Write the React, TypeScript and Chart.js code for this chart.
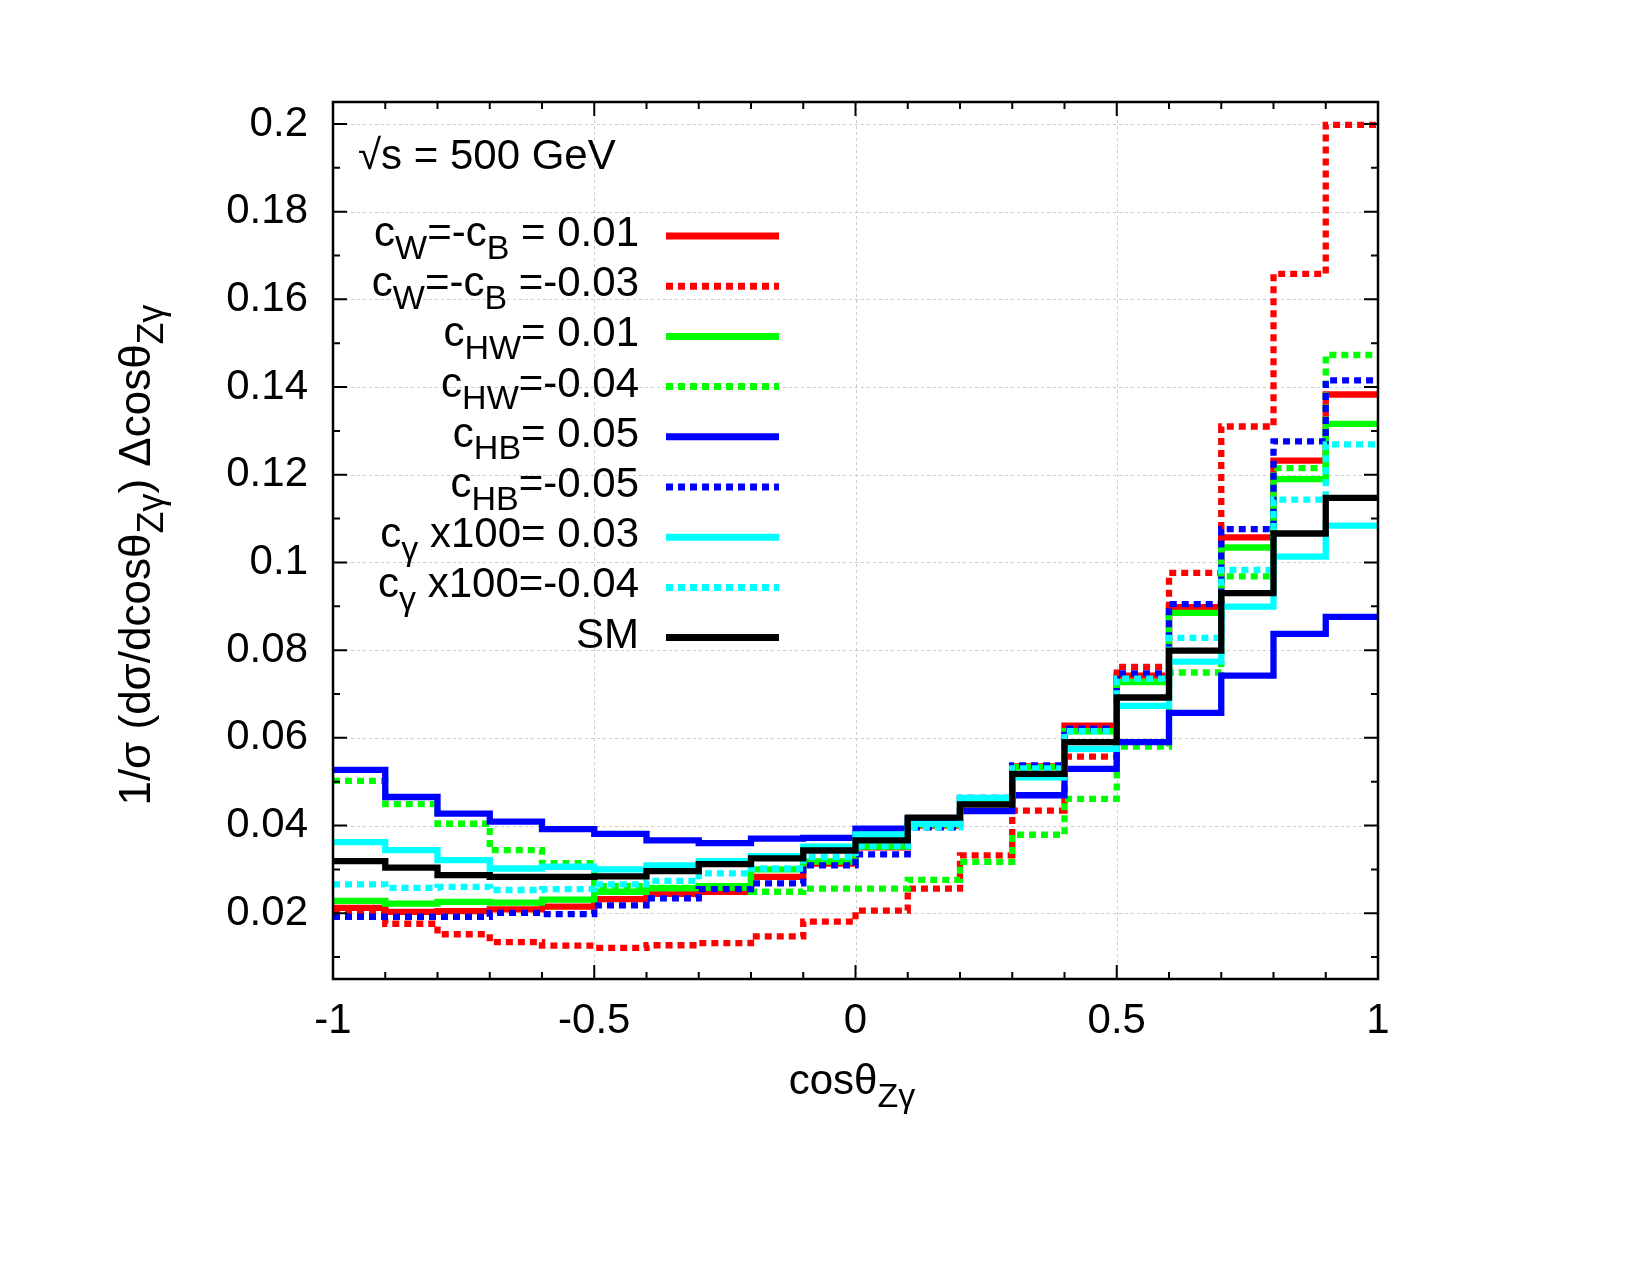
import React, { useEffect, useRef } from 'react';
import { Chart, registerables } from 'chart.js';

Chart.register(...registerables);

// ---------------- data ----------------
const binEdges = [-1, -0.9, -0.8, -0.7, -0.6, -0.5, -0.4, -0.3, -0.2, -0.1, 0, 0.1, 0.2, 0.3, 0.4, 0.5, 0.6, 0.7, 0.8, 0.9, 1];
const xTicks = [-1, -0.5, 0, 0.5, 1];
const yTicks = [0.02, 0.04, 0.06, 0.08, 0.1, 0.12, 0.14, 0.16, 0.18, 0.2];
const yMinorTicks = [0.01, 0.02, 0.03, 0.04, 0.05, 0.06, 0.07, 0.08, 0.09, 0.1, 0.11, 0.12, 0.13, 0.14, 0.15, 0.16, 0.17, 0.18, 0.19, 0.2];
const xMin = -1;
const xMax = 1;
const yMin = 0.005;
const yMax = 0.205;

const seriesLabels = [
  'c_W=-c_B = 0.01',
  'c_W=-c_B =-0.03',
  'c_{HW}= 0.01',
  'c_{HW}=-0.04',
  'c_{HB}= 0.05',
  'c_{HB}=-0.05',
  'c_γ x100= 0.03',
  'c_γ x100=-0.04',
  'SM',
];

const cwcbPos = [0.0212, 0.0203, 0.0205, 0.0209, 0.0215, 0.0232, 0.0244, 0.0249, 0.0283, 0.0313, 0.0350, 0.0400, 0.0460, 0.0535, 0.0628, 0.0742, 0.0898, 0.1057, 0.1232, 0.1383];
const cwcbNeg = [0.0205, 0.0176, 0.0152, 0.0134, 0.0126, 0.0121, 0.0127, 0.0132, 0.0147, 0.0181, 0.0206, 0.0256, 0.0332, 0.0434, 0.0557, 0.0762, 0.0976, 0.1310, 0.1658, 0.1998];
const chwPos = [0.0228, 0.0222, 0.0226, 0.0224, 0.0231, 0.0249, 0.0257, 0.0262, 0.0300, 0.0318, 0.0352, 0.0402, 0.0460, 0.0533, 0.0615, 0.0727, 0.0885, 0.1034, 0.1190, 0.1316];
const chwNeg = [0.0502, 0.0449, 0.0404, 0.0344, 0.0314, 0.0262, 0.0258, 0.0258, 0.0249, 0.0256, 0.0256, 0.0276, 0.0317, 0.0379, 0.0461, 0.0580, 0.0749, 0.0968, 0.1215, 0.1473];
const chbPos = [0.0527, 0.0465, 0.0427, 0.0409, 0.0392, 0.0381, 0.0366, 0.0360, 0.0370, 0.0372, 0.0393, 0.0415, 0.0433, 0.0469, 0.0529, 0.0590, 0.0657, 0.0742, 0.0837, 0.0876];
const chbNeg = [0.0192, 0.0192, 0.0192, 0.0201, 0.0198, 0.0218, 0.0234, 0.0255, 0.0268, 0.0309, 0.0334, 0.0396, 0.0463, 0.0537, 0.0621, 0.0747, 0.0905, 0.1076, 0.1276, 0.1415];
const cgPos = [0.0362, 0.0344, 0.0321, 0.0302, 0.0306, 0.0300, 0.0309, 0.0319, 0.0330, 0.0352, 0.0380, 0.0404, 0.0463, 0.0510, 0.0575, 0.0673, 0.0774, 0.0899, 0.1013, 0.1084];
const cgNeg = [0.0266, 0.0258, 0.0260, 0.0253, 0.0255, 0.0266, 0.0274, 0.0291, 0.0302, 0.0328, 0.0353, 0.0396, 0.0463, 0.0530, 0.0615, 0.0735, 0.0828, 0.0983, 0.1143, 0.1269];
const smValues = [0.0319, 0.0304, 0.0287, 0.0283, 0.0283, 0.0284, 0.0296, 0.0312, 0.0325, 0.0343, 0.0366, 0.0418, 0.0448, 0.0518, 0.0590, 0.0692, 0.0799, 0.0930, 0.1066, 0.1147];

const seriesValues = [cwcbPos, cwcbNeg, chwPos, chwNeg, chbPos, chbNeg, cgPos, cgNeg, smValues];
const seriesColors = ['#ff0000', '#ff0000', '#00ff00', '#00ff00', '#0000ff', '#0000ff', '#00ffff', '#00ffff', '#000000'];
const seriesDotted = [false, true, false, true, false, true, false, true, false];

const energyLabel = '√s = 500 GeV';
const xTitle = 'cosθ_{Zγ}';
const yTitle = '1/σ (dσ/dcosθ_{Zγ}) Δcosθ_{Zγ}';

// ---------------- styling ----------------
const FONT = '"Liberation Sans", Arial, Helvetica, sans-serif';
const FS = 42;
const DASH = [7, 5];
const LINE_W = 6.3;

type Seg = { t: string; sub: boolean };

function parseRich(s: string): Seg[] {
  const out: Seg[] = [];
  let buf = '';
  for (let i = 0; i < s.length; i++) {
    const ch = s[i];
    if (ch === '_') {
      if (buf) { out.push({ t: buf, sub: false }); buf = ''; }
      if (s[i + 1] === '{') {
        const j = s.indexOf('}', i + 2);
        out.push({ t: s.slice(i + 2, j), sub: true });
        i = j;
      } else {
        out.push({ t: s[i + 1], sub: true });
        i++;
      }
    } else {
      buf += ch;
    }
  }
  if (buf) out.push({ t: buf, sub: false });
  return out;
}

function drawRich(ctx: CanvasRenderingContext2D, s: string, x: number, y: number, size: number, align: 'left' | 'right' | 'center') {
  const segs = parseRich(s);
  const subSize = Math.round(size * 0.82);
  const widths = segs.map((g) => {
    ctx.font = `${g.sub ? subSize : size}px ${FONT}`;
    return ctx.measureText(g.t).width;
  });
  const total = widths.reduce((a, b) => a + b, 0);
  let cx = align === 'left' ? x : align === 'right' ? x - total : x - total / 2;
  ctx.textAlign = 'left';
  ctx.textBaseline = 'alphabetic';
  segs.forEach((g, i) => {
    ctx.font = `${g.sub ? subSize : size}px ${FONT}`;
    ctx.fillText(g.t, cx, y + (g.sub ? size * 0.3 : 0));
    cx += widths[i];
  });
  return total;
}

const gnuplotPlugin = {
  id: 'gnuplotDecor',
  beforeDatasetsDraw(chart: any) {
    const { ctx, chartArea: a, scales } = chart;
    const xs = scales.x;
    const ys = scales.y;
    ctx.save();
    ctx.strokeStyle = '#cccccc';
    ctx.lineWidth = 1;
    ctx.setLineDash([3, 3]);
    for (const v of xTicks) {
      const px = Math.round(xs.getPixelForValue(v)) + 0.5;
      ctx.beginPath();
      ctx.moveTo(px, a.top);
      ctx.lineTo(px, a.bottom);
      ctx.stroke();
    }
    for (const v of yTicks) {
      const py = Math.round(ys.getPixelForValue(v)) + 0.5;
      ctx.beginPath();
      ctx.moveTo(a.left, py);
      ctx.lineTo(a.right, py);
      ctx.stroke();
    }
    ctx.restore();
  },
  afterDatasetsDraw(chart: any) {
    const { ctx, chartArea: a, scales } = chart;
    const xs = scales.x;
    const ys = scales.y;
    ctx.save();
    ctx.setLineDash([]);
    ctx.strokeStyle = '#000';
    ctx.lineWidth = 2;
    ctx.lineCap = 'butt';
    const isMajorX = (v: number) => xTicks.some((t) => Math.abs(t - v) < 1e-9);
    const isMajorY = (v: number) => yTicks.some((t) => Math.abs(t - v) < 1e-9);
    for (const v of binEdges) {
      const px = xs.getPixelForValue(v);
      const len = isMajorX(v) ? 14 : 7;
      ctx.beginPath();
      ctx.moveTo(px, a.bottom);
      ctx.lineTo(px, a.bottom - len);
      ctx.moveTo(px, a.top);
      ctx.lineTo(px, a.top + len);
      ctx.stroke();
    }
    for (const v of yMinorTicks) {
      const py = ys.getPixelForValue(v);
      const len = isMajorY(v) ? 14 : 7;
      ctx.beginPath();
      ctx.moveTo(a.left, py);
      ctx.lineTo(a.left + len, py);
      ctx.moveTo(a.right, py);
      ctx.lineTo(a.right - len, py);
      ctx.stroke();
    }
    ctx.lineWidth = 2.5;
    ctx.strokeRect(a.left, a.top, a.right - a.left, a.bottom - a.top);
    ctx.restore();
  },
  afterDraw(chart: any) {
    const { ctx } = chart;
    ctx.save();
    ctx.fillStyle = '#000';
    // energy label
    drawRich(ctx, energyLabel, 358, 169, FS, 'left');
    // legend
    const rowH = 50.2;
    seriesLabels.forEach((lab, i) => {
      const base = 246 + i * rowH;
      ctx.fillStyle = '#000';
      drawRich(ctx, lab, 639, base, FS, 'right');
      ctx.beginPath();
      ctx.strokeStyle = seriesColors[i];
      ctx.lineWidth = 7;
      ctx.lineCap = 'butt';
      ctx.setLineDash(seriesDotted[i] ? DASH : []);
      ctx.moveTo(666, base - 10);
      ctx.lineTo(779, base - 10);
      ctx.stroke();
    });
    ctx.setLineDash([]);
    // x title
    ctx.fillStyle = '#000';
    drawRich(ctx, xTitle, 852, 1094, FS, 'center');
    // y title (rotated)
    ctx.save();
    ctx.translate(150, 555);
    ctx.rotate(-Math.PI / 2);
    drawRich(ctx, yTitle, 0, 0, 44, 'center');
    ctx.restore();
    ctx.restore();
  },
};

export default function App() {
  const ref = useRef<HTMLCanvasElement | null>(null);
  useEffect(() => {
    if (!ref.current) return;
    const datasets = seriesValues.map((vals, i) => ({
      label: seriesLabels[i],
      data: binEdges.map((x, j) => ({ x, y: vals[Math.min(j, vals.length - 1)] })),
      borderColor: seriesColors[i],
      backgroundColor: seriesColors[i],
      borderWidth: LINE_W,
      borderDash: seriesDotted[i] ? DASH : [],
      borderCapStyle: 'butt' as const,
      borderJoinStyle: 'miter' as const,
      stepped: 'before' as const,
      pointRadius: 0,
      pointHoverRadius: 0,
      fill: false,
      tension: 0,
      order: seriesValues.length - i,
    }));
    const chart = new Chart(ref.current, {
      type: 'line',
      data: { datasets },
      options: {
        responsive: false,
        animation: false,
        devicePixelRatio: 1,
        events: [],
        layout: { padding: { left: 0, right: 272, top: 102, bottom: 0 } },
        plugins: {
          legend: { display: false },
          tooltip: { enabled: false },
          title: { display: false },
        },
        scales: {
          x: {
            type: 'linear',
            min: xMin,
            max: xMax,
            afterBuildTicks: (s: any) => { s.ticks = xTicks.map((v) => ({ value: v })); },
            afterFit: (s: any) => { s.height = 296; },
            grid: { display: false, drawTicks: false },
            border: { display: false },
            ticks: {
              font: { family: FONT, size: FS },
              color: '#000',
              padding: 17,
              maxRotation: 0,
              autoSkip: false,
              callback: (v: any) => String(Number(Number(v).toFixed(2))),
            },
          },
          y: {
            type: 'linear',
            min: yMin,
            max: yMax,
            afterBuildTicks: (s: any) => { s.ticks = yTicks.map((v) => ({ value: v })); },
            afterFit: (s: any) => { s.width = 333; },
            grid: { display: false, drawTicks: false },
            border: { display: false },
            ticks: {
              font: { family: FONT, size: FS },
              color: '#000',
              padding: 25,
              autoSkip: false,
              callback: (v: any) => String(Number(Number(v).toFixed(2))),
            },
          },
        },
      },
      plugins: [gnuplotPlugin],
    });
    return () => chart.destroy();
  }, []);
  return (
    <div style={{ position: 'absolute', left: 0, top: 0, width: 1650, height: 1275, background: '#fff' }}>
      <canvas ref={ref} width={1650} height={1275} style={{ display: 'block' }} />
    </div>
  );
}
